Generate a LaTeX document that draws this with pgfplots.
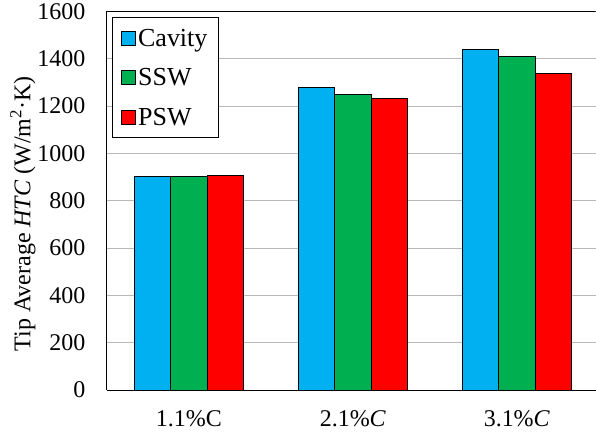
\documentclass[border=0pt]{standalone}
\usepackage{pgfplots}
\pgfplotsset{compat=1.18}
\usepackage{fontspec}
\setmainfont{Liberation Serif}
\definecolor{cblue}{HTML}{00B0F0}
\definecolor{cgreen}{HTML}{00B050}
\definecolor{cred}{HTML}{FF0000}
\begin{document}
\begin{tikzpicture}
\begin{axis}[
  scale only axis,
  width=489pt, height=379pt,
  ybar=0pt, bar width=36.5pt,
  xmin=-0.5, xmax=2.48,
  ymin=0, ymax=1600,
  ytick={0,200,...,1600},
  xtick={0,1,2},
  xticklabels={1.1\%C, 2.1\%\textit{C}, 3.1\%\textit{C}},
  major tick length=0pt,
  axis x line*=bottom, axis y line*=left,
  ymajorgrids,
  grid style={black!28, line width=0.9pt},
  axis line style={black, line width=0.9pt, -},
  tick label style={font=\fontsize{24}{28}\selectfont},
  /pgf/number format/assume math mode=true,
  /pgf/number format/1000 sep={},
  yticklabel style={xshift=-18pt},
  xticklabel style={yshift=-17pt},
  ylabel={Tip Average \textit{HTC} (W/m\textsuperscript{2}·K)},
  ylabel style={font=\fontsize{24}{28}\selectfont, yshift=-5pt, xshift=-13pt},
  legend style={at={(rel axis cs:0,1)}, anchor=north west, xshift=5pt, yshift=-6pt,
    draw=black, line width=0.9pt, font=\fontsize{26}{30}\selectfont,
    row sep=17pt, inner xsep=9pt, inner ysep=9pt, cells={anchor=west}},
  legend image code/.code={\draw[#1, line width=0.8pt] (0pt,-7pt) rectangle (14pt,7pt);},
  every axis plot/.append style={draw=black, line width=0.9pt},
]
\addplot[fill=cblue] coordinates {(0,903) (1,1280) (2,1438)};
\addplot[fill=cgreen] coordinates {(0,903) (1,1248) (2,1410)};
\addplot[fill=cred] coordinates {(0,906) (1,1232) (2,1338)};
\legend{Cavity, SSW, PSW}
\draw[black, line width=0.9pt] (rel axis cs:0,1) -- (rel axis cs:1,1);
\coordinate (bl) at (rel axis cs:0,0);
\coordinate (tr) at (rel axis cs:1,1);
\end{axis}
\path ([shift={(-107pt,-46pt)}]bl) ([shift={(0pt,11pt)}]tr);
\end{tikzpicture}
\end{document}
